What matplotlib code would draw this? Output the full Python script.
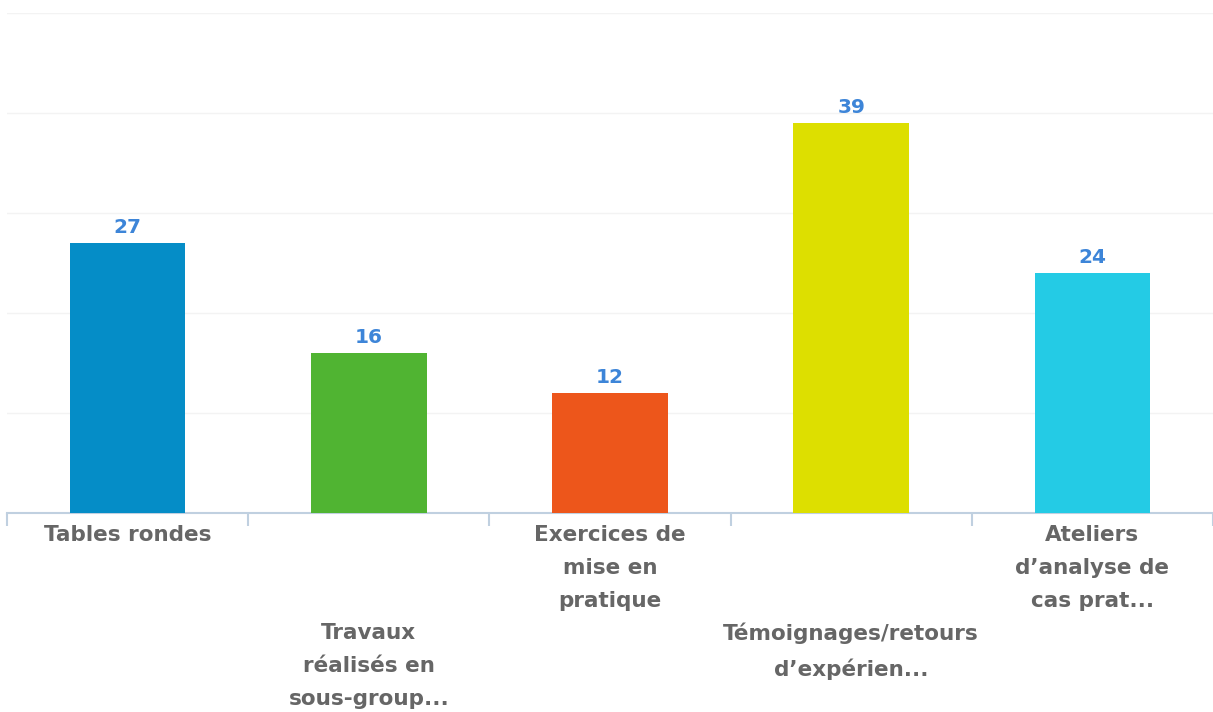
import matplotlib
matplotlib.use("Agg")
import matplotlib.pyplot as plt
from matplotlib.transforms import blended_transform_factory

# Données du graphique
categories = [
    "Tables rondes",
    "Travaux\nréalisés en\nsous-group...",
    "Exercices de\nmise en\npratique",
    "Témoignages/retours\nd’expérien...",
    "Ateliers\nd’analyse de\ncas prat...",
]
values = [27, 16, 12, 39, 24]
colors = ["#058DC7", "#50B432", "#ED561B", "#DDDF00", "#24CBE5"]
label_row = [0, 1, 0, 1, 0]  # étiquettes décalées en quinconce

fig = plt.figure(figsize=(12.13, 7.12), dpi=100)
ax = fig.add_axes([7 / 1213, (712 - 513) / 712, 1206 / 1213, 500 / 712])

x = list(range(len(values)))
ax.bar(x, values, width=0.48, color=colors, zorder=3)
ax.set_xlim(-0.5, len(values) - 0.5)
ax.set_ylim(0, 50)

# Grille horizontale très pâle
for y in range(10, 51, 10):
    ax.axhline(y, color="#f3f3f3", lw=1, zorder=1)

for s in ["left", "right", "top"]:
    ax.spines[s].set_visible(False)
ax.spines["bottom"].set_color("#C0D0E0")
ax.spines["bottom"].set_linewidth(1.5)
ax.set_yticks([])
ax.set_xticks([i - 0.5 for i in range(len(values) + 1)])
ax.set_xticklabels([])
ax.tick_params(axis="x", length=9, width=1.5, color="#C0D0E0", direction="out")

# Valeurs au-dessus des barres
for xi, v in zip(x, values):
    ax.annotate(str(v), (xi, v), xytext=(0, 4), textcoords="offset points",
                ha="center", va="bottom", fontsize=14.5, fontweight="bold",
                color="#3D85D8")

# Étiquettes des catégories
trans = blended_transform_factory(ax.transData, ax.transAxes)
for xi, lab, row in zip(x, categories, label_row):
    ax.text(xi, -0.024 - row * 0.196, lab, transform=trans, ha="center",
            va="top", fontsize=15.5, fontweight="bold", color="#666666",
            linespacing=1.8)

fig.savefig("out.png", dpi=100)
